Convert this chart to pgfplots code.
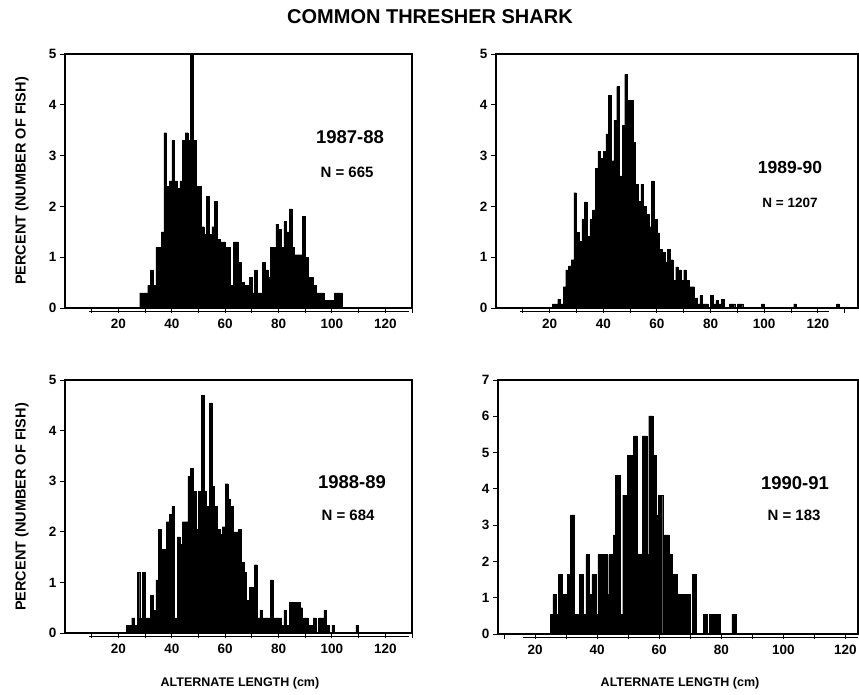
\documentclass[border=0pt]{standalone}
\usepackage{pgfplots}
\pgfplotsset{compat=1.18}
\usepackage{fontspec}
\setmainfont{Liberation Sans}

\pgfplotsset{
 panel/.style={
  scale only axis, anchor=south west, clip=false,
  ymin=0,
  axis line style={line width=1.3pt},
  xtick={20,40,...,120},
  minor xtick={10,30,...,130},
  tick align=outside, xtick pos=bottom, ytick pos=left,
  major tick length=5pt, minor tick length=5pt,
  tick style={black, line width=0.9pt},
  ticklabel style={font=\bfseries\fontsize{13.5}{13.5}\selectfont},
  /pgf/number format/assume math mode=true,
  xticklabel style={yshift=-3pt},
 },
 hist/.style={ybar interval, fill=black, draw=black, line width=0.3pt},
}

\begin{document}
\begin{tikzpicture}
\useasboundingbox (0,0) rectangle (859pt,694pt);

% ---------- 1987-88 (top left) ----------
\begin{axis}[panel, at={(65pt,386pt)}, width=347pt, height=254pt,
  xmin=0, xmax=130, ymax=5, ytick={0,1,...,5}]
\addplot[hist] coordinates {
(28,0.3)(29,0.3)(30,0.3)(31,0.45)(32,0.75)(33,0.45)(34,1.2)(35,1.2)(36,1.5)
(37,3.45)(38,2.4)(39,2.5)(40,3.3)(41,2.5)(42,2.35)(43,2.5)(44,3.3)(45,3.45)
(46,3.3)(47,5.0)(48,3.3)(49,2.4)(50,2.4)(51,1.6)(52,1.45)(53,2.2)(54,1.45)
(55,1.6)(56,2.1)(57,1.35)(58,1.3)(59,1.3)(60,1.2)(61,1.2)(62,0.45)(63,1.3)
(64,1.3)(65,0.9)(66,0.5)(67,0.45)(68,0.45)(69,0.6)(70,0.3)(71,0.75)(72,0.3)
(73,0.3)(74,0.9)(75,0.75)(76,0.6)(77,1.2)(78,1.2)(79,1.65)(80,1.55)(81,1.2)
(82,1.7)(83,1.5)(84,1.95)(85,1.2)(86,1.05)(87,1.05)(88,1.05)(89,1.8)(90,1.0)
(91,0.6)(92,0.6)(93,0.45)(94,0.3)(95,0.3)(96,0.3)(97,0.15)(98,0.15)(99,0.15)
(100,0.15)(101,0.3)(102,0.3)(103,0.3)(104,0)
};
\draw[line width=0.8pt] ([yshift=-3pt]axis cs:9,0) -- ([yshift=-3pt]axis cs:129,0);
\end{axis}

% ---------- 1989-90 (top right) ----------
\begin{axis}[panel, at={(496pt,386pt)}, width=362pt, height=254pt,
  xmin=0, xmax=135, ymax=5, ytick={0,1,...,5}]
\addplot[hist] coordinates {
(21,0.08)(22,0.08)(23,0.17)(24,0.08)(25,0.42)(26,0.75)(27,0.83)(28,0.95)
(29,2.27)(30,1.49)(31,1.31)(32,1.74)(33,2.09)(34,1.41)(35,1.74)(36,1.93)
(37,2.75)(38,3.08)(39,2.95)(40,3.08)(41,3.43)(42,4.19)(43,2.9)(44,3.7)
(45,4.36)(46,2.6)(47,3.6)(48,4.6)(49,4.09)(50,4.09)(51,3.26)(52,2.44)
(53,2.1)(54,2.44)(55,2.0)(56,1.84)(57,1.6)(58,2.5)(59,1.74)(60,1.48)
(61,1.16)(62,1.09)(63,0.91)(64,1.15)(65,0.95)(66,0.55)(67,0.81)(68,0.75)
(69,0.55)(70,0.75)(71,0.55)(72,0.42)(73,0.42)(74,0.2)(75,0.08)(76,0.25)
(77,0.08)(78,0.08)(79,0)(80,0.25)(81,0.08)(82,0.15)(83,0.08)(84,0.17)
(85,0)(87,0.08)(88,0.08)(89,0)(90,0.08)(91,0.08)(92,0)(99,0.08)(100,0)
(111,0.08)(112,0)(127,0.08)(128,0)
};
\draw[line width=0.8pt] ([yshift=-3pt]axis cs:9,0) -- ([yshift=-3pt]axis cs:124,0);
\end{axis}

% ---------- 1988-89 (bottom left) ----------
\begin{axis}[panel, at={(65pt,61pt)}, width=347pt, height=253pt,
  xmin=0, xmax=130, ymax=5, ytick={0,1,...,5}]
\addplot[hist] coordinates {
(23,0.15)(24,0.15)(25,0.3)(26,0.15)(27,1.2)(28,0.3)(29,1.2)(30,0.3)(31,0.3)
(32,0.75)(33,0.45)(34,1.05)(35,2.05)(36,1.65)(37,1.65)(38,2.2)(39,2.35)
(40,2.5)(41,0.3)(42,1.9)(43,1.75)(44,2.2)(45,2.2)(46,3.1)(47,3.25)(48,2.8)
(49,2.05)(50,2.8)(51,4.7)(52,2.8)(53,2.5)(54,4.55)(55,2.9)(56,2.5)(57,2.05)
(58,1.95)(59,2.1)(60,2.95)(61,2.65)(62,2.5)(63,2.0)(64,2.0)(65,2.05)(66,1.4)
(67,1.2)(68,0.65)(69,0.9)(70,0.9)(71,1.35)(72,0.3)(73,0.45)(74,0.3)(75,0.3)
(76,0.3)(77,1.05)(78,0.3)(79,0.3)(80,0.3)(81,0.15)(82,0.45)(83,0.15)(84,0.6)
(85,0.6)(86,0.6)(87,0.6)(88,0.5)(89,0.3)(90,0.3)(91,0.15)(92,0.15)(93,0.3)
(94,0)(95,0.3)(96,0.3)(97,0.45)(98,0.15)(99,0)(100,0.15)(101,0)(109,0.15)(110,0)
};
\draw[line width=0.8pt] ([yshift=-3pt]axis cs:9,0) -- ([yshift=-3pt]axis cs:129,0);
\end{axis}

% ---------- 1990-91 (bottom right) ----------
\begin{axis}[panel, at={(498pt,60pt)}, width=360pt, height=254pt,
  xmin=8, xmax=124.1, ymax=7, ytick={0,1,...,7}]
\addplot[hist] coordinates {
(24.8,0.55)(25.7,1.09)(26.8,0.55)(27.5,1.64)(28.8,1.09)(30.4,1.64)(31.3,3.28)
(32.7,0.55)(34.3,1.64)(35.6,0.55)(36.3,2.19)(37.5,1.09)(38.3,1.64)(39.6,0.55)
(40.2,2.19)(41.7,0)(42.0,2.19)(43.1,1.09)(43.7,2.19)(45.1,2.73)(45.9,4.37)
(47.4,0.55)(48.2,3.83)(49.6,4.92)(51.2,3.28)(51.7,5.46)(53.0,2.19)(54.1,0.55)
(54.5,5.46)(56.0,2.19)(56.6,6.01)(58.0,4.92)(59.0,3.28)(59.6,3.83)(61.1,0)
(61.6,2.73)(63.2,2.19)(64.3,1.64)(65.9,1.09)(67.0,0)(67.5,1.09)(70.0,0)
(70.6,1.64)(71.8,0)(74.3,0.55)(75.6,0)(76.2,0.55)(79.7,0)(83.4,0.55)(84.7,0)
};
\draw[line width=0.8pt] ([yshift=-3pt]axis cs:16,0) -- ([yshift=-3pt]axis cs:124,0);
\end{axis}

% ---------- texts ----------
\node[font=\bfseries\fontsize{20}{20}\selectfont] at (430pt,677pt) {COMMON THRESHER SHARK};
\node[rotate=90, font=\bfseries\fontsize{14.5}{14.5}\selectfont] at (22pt,513pt) {PERCENT (NUMBER OF FISH)};
\node[rotate=90, font=\bfseries\fontsize{14.5}{14.5}\selectfont] at (22pt,187pt) {PERCENT (NUMBER OF FISH)};
\node[font=\bfseries\fontsize{12.5}{12.5}\selectfont] at (240pt,11pt) {ALTERNATE LENGTH (cm)};
\node[font=\bfseries\fontsize{12.5}{12.5}\selectfont] at (680pt,11pt) {ALTERNATE LENGTH (cm)};

\node[font=\bfseries\fontsize{18.5}{18.5}\selectfont] at (350pt,557pt) {1987-88};
\node[font=\bfseries\fontsize{15}{15}\selectfont] at (347pt,522pt) {N = 665};
\node[font=\bfseries\fontsize{17.5}{17.5}\selectfont] at (790pt,527pt) {1989-90};
\node[font=\bfseries\fontsize{13.5}{13.5}\selectfont] at (790pt,491pt) {N = 1207};
\node[font=\bfseries\fontsize{18.5}{18.5}\selectfont] at (352pt,212pt) {1988-89};
\node[font=\bfseries\fontsize{15}{15}\selectfont] at (348pt,179pt) {N = 684};
\node[font=\bfseries\fontsize{18.5}{18.5}\selectfont] at (795pt,211pt) {1990-91};
\node[font=\bfseries\fontsize{15}{15}\selectfont] at (794pt,179pt) {N = 183};
\end{tikzpicture}
\end{document}
